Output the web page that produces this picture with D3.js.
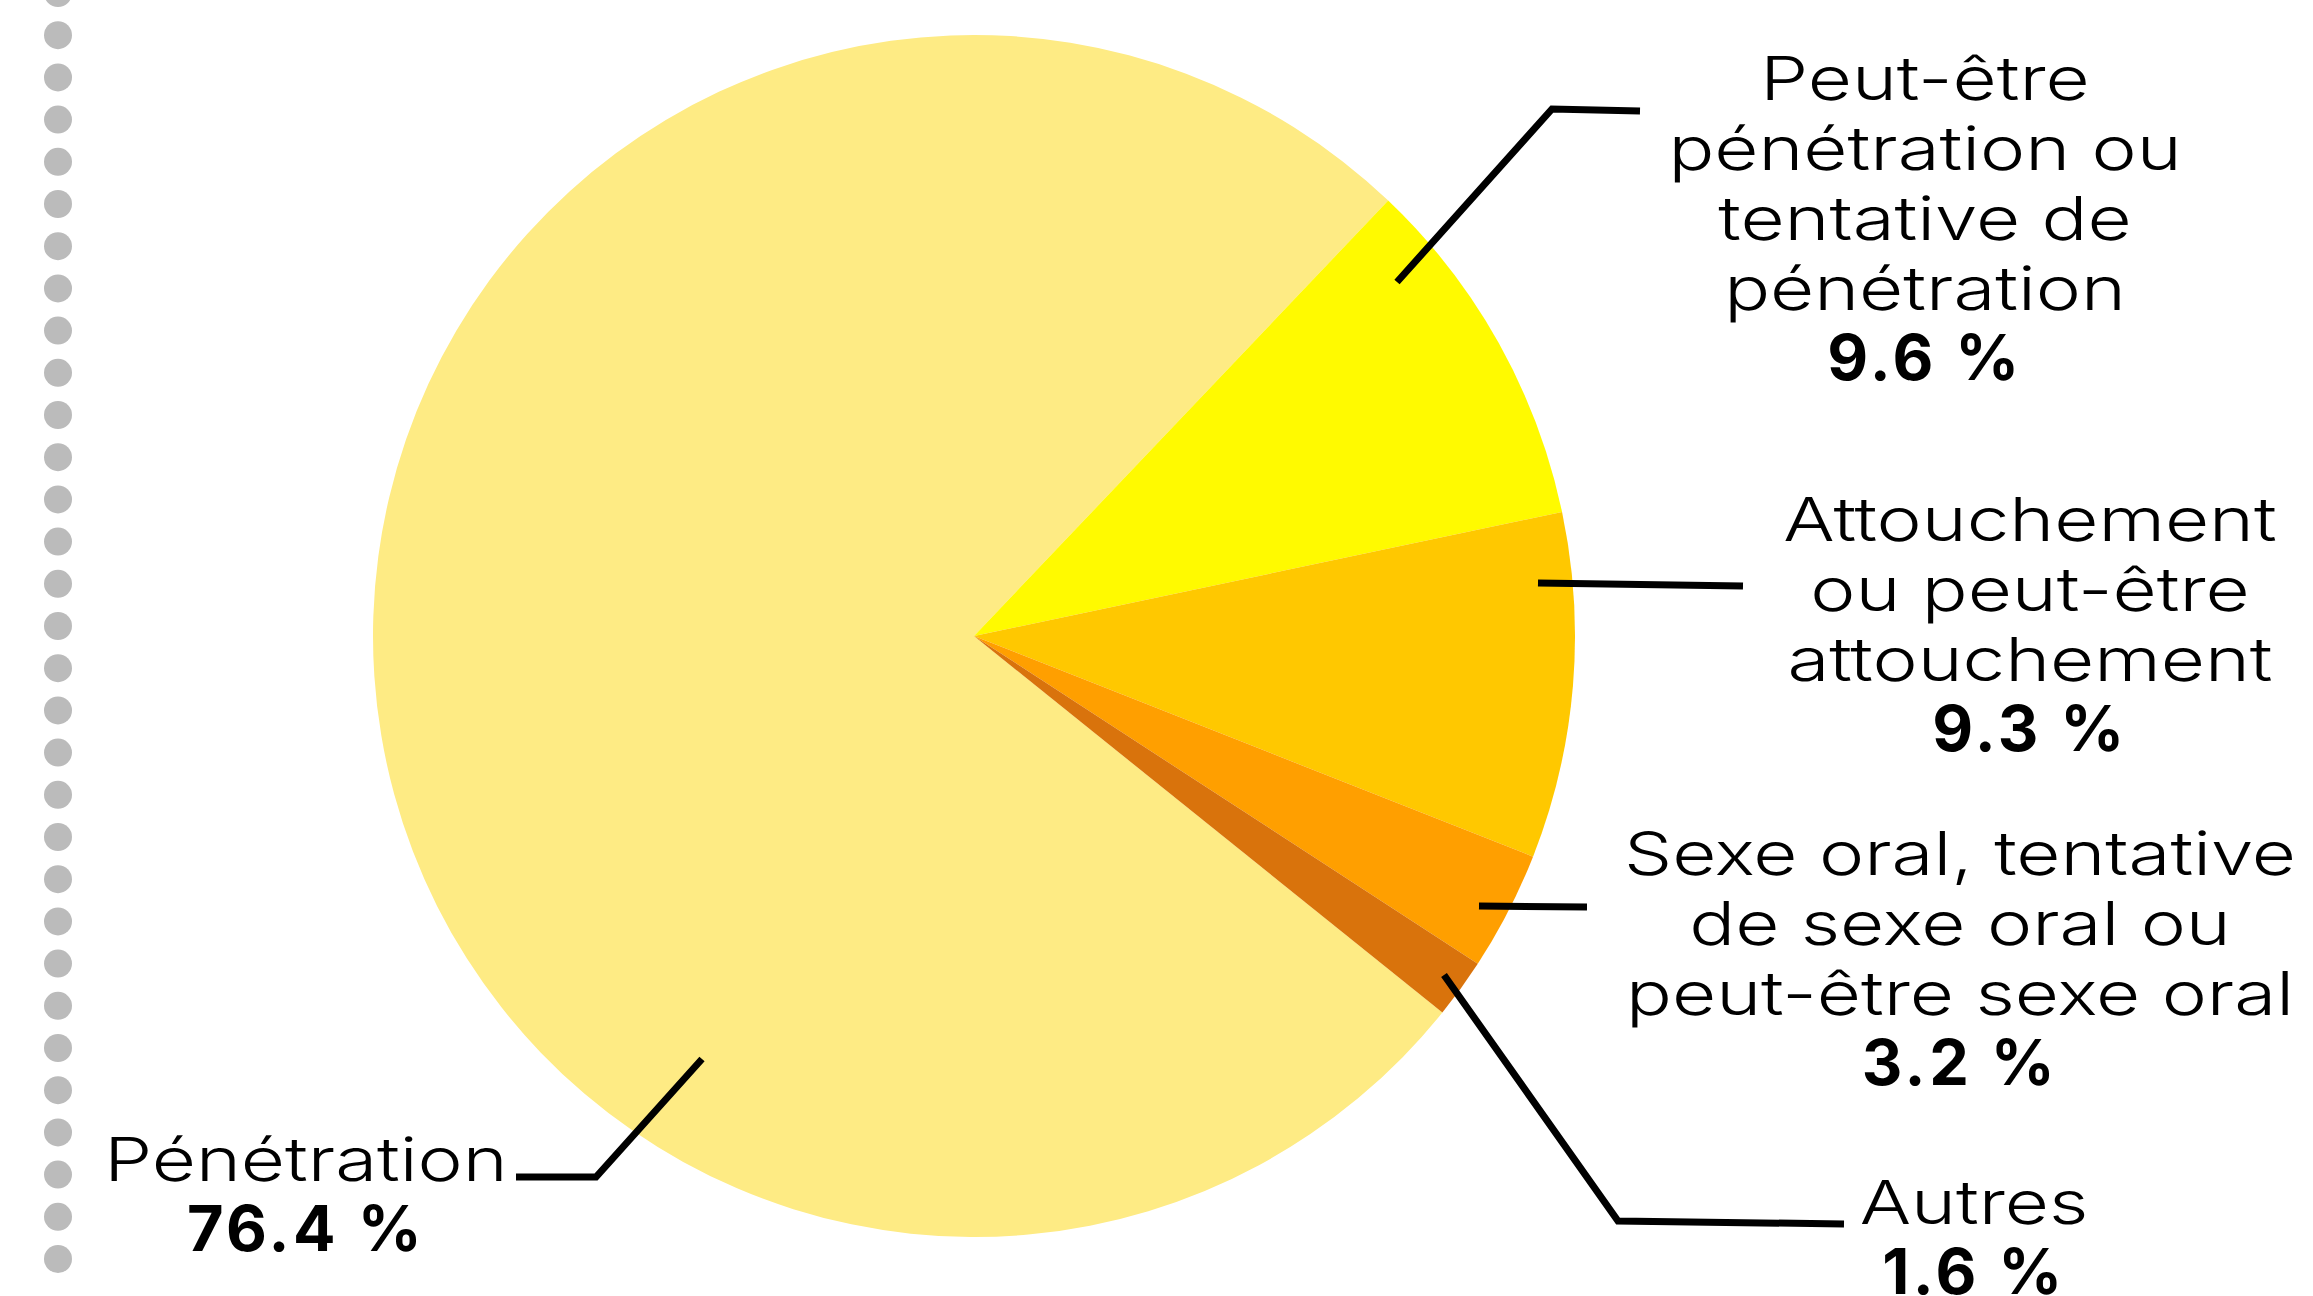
<!DOCTYPE html>
<html>
<head>
<meta charset="utf-8">
<script src="https://cdn.jsdelivr.net/npm/d3@7"></script>
<style>
  html, body { margin: 0; padding: 0; background: #fff; }
  svg text { font-family: Inter, "Open Sans", sans-serif; fill: #000; }
  .lab { font-weight: 300; font-size: 61px; }
  .val { font-weight: 700; font-size: 63px; letter-spacing: 3.5px; }
</style>
</head>
<body>
<div id="chart"></div>
<script>
// Data
var categories = [
  "Pénétration",
  "Peut-être pénétration ou tentative de pénétration",
  "Attouchement ou peut-être attouchement",
  "Sexe oral, tentative de sexe oral ou peut-être sexe oral",
  "Autres"
];
var values = [76.4, 9.6, 9.3, 3.2, 1.6];
var valueLabels = ["76.4 %", "9.6 %", "9.3 %", "3.2 %", "1.6 %"];
// label text split in lines as on the picture
var labelLines = [
  ["Pénétration"],
  ["Peut-être", "pénétration ou", "tentative de", "pénétration"],
  ["Attouchement", "ou peut-être", "attouchement"],
  ["Sexe oral, tentative", "de sexe oral ou", "peut-être sexe oral"],
  ["Autres"]
];
var colors = ["#FEEB84", "#FFFA00", "#FFC800", "#FF9F00", "#D9730C"];

// Layout
var svgWidth = 2313;
var svgHeight = 1296;
var center = { x: 974, y: 636 };
var radius = 601;
var lineHeight = 70;
var stretch = 1.25; // the original face is much wider than Inter

// label block: x center, first baseline, leader polyline
var labelLayout = [
  { x: 306,  y: 1181, leader: [[702, 1059], [596, 1177], [516, 1177]] },
  { x: 1925, y: 100,  leader: [[1397, 282], [1552, 109], [1640, 111]] },
  { x: 2030, y: 541,  leader: [[1538, 583], [1743, 586]] },
  { x: 1960, y: 875,  leader: [[1479, 906], [1587, 907]] },
  { x: 1974, y: 1224, leader: [[1444, 975], [1618, 1221], [1844, 1224]] }
];

var svg = d3.select("#chart")
  .append("svg")
    .attr("width", svgWidth)
    .attr("height", svgHeight);

// grey dotted rule on the left
svg.append("g")
  .selectAll("circle")
  .data(d3.range(31))
  .enter()
  .append("circle")
    .attr("cx", 58)
    .attr("cy", d => -7 + d * 42.2)
    .attr("r", 14)
    .attr("fill", "#BBBBBB");

var pieData = categories.map((c, i) => ({ name: c, value: values[i], color: colors[i] }));

var startAngle = 128.8 * Math.PI / 180;
var pie = d3.pie()
  .sort(null)
  .value(d => d.value)
  .startAngle(startAngle)
  .endAngle(startAngle + 2 * Math.PI);

var arc = d3.arc()
  .innerRadius(0)
  .outerRadius(radius);

var pieGroup = svg.append("g")
  .attr("transform", `translate(${center.x}, ${center.y})`);

pieGroup.selectAll("path")
  .data(pie(pieData))
  .enter()
  .append("path")
    .attr("d", arc)
    .attr("fill", d => d.data.color);

// leader lines
var line = d3.line();
svg.append("g")
  .selectAll("path")
  .data(labelLayout)
  .enter()
  .append("path")
    .attr("d", d => line(d.leader))
    .attr("fill", "none")
    .attr("stroke", "#000")
    .attr("stroke-width", 7)
    .attr("stroke-linejoin", "miter");

// labels
labelLayout.forEach(function(l, i) {
  var g = svg.append("g");
  labelLines[i].forEach(function(t, j) {
    g.append("text")
      .attr("class", "lab")
      .attr("transform", `translate(${l.x}, ${l.y + j * lineHeight}) scale(${stretch}, 1)`)
      .attr("text-anchor", "middle")
      .text(t);
  });
  g.append("text")
    .attr("class", "val")
    .attr("x", l.x)
    .attr("y", l.y + labelLines[i].length * lineHeight)
    .attr("text-anchor", "middle")
    .text(valueLabels[i]);
});
</script>
</body>
</html>
